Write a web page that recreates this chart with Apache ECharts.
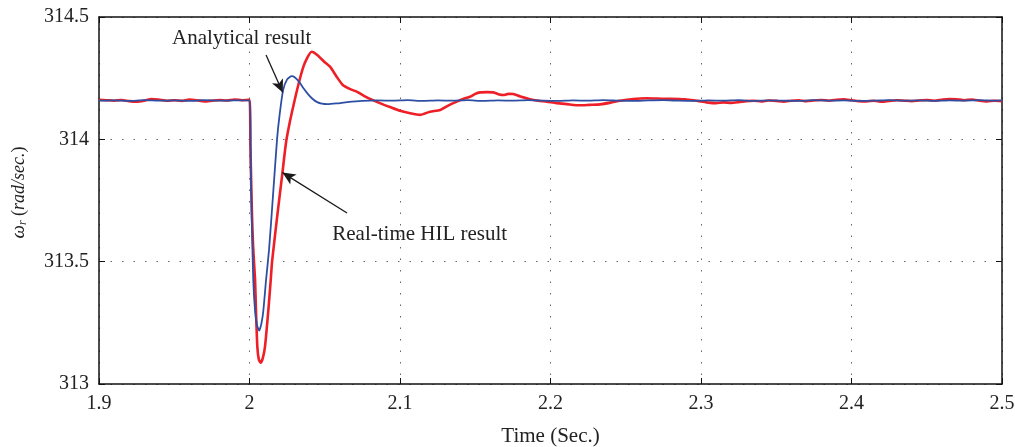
<!DOCTYPE html>
<html>
<head>
<meta charset="utf-8">
<script src="https://cdn.jsdelivr.net/npm/echarts@6/dist/echarts.min.js"></script>
<style>
html,body{margin:0;padding:0;background:#fff;}
#chart{width:1015px;height:447px;}
</style>
</head>
<body>
<div id="chart"></div>
<script>
// ---- data ----
const xTicks = [1.9, 2.0, 2.1, 2.2, 2.3, 2.4, 2.5];
const yTicks = [313, 313.5, 314, 314.5];

// Analytical result (blue)
const tAnalytical = [
  1.900,1.910,1.920,1.930,1.940,1.950,1.960,1.970,1.980,1.990,2.000,
  2.0008,2.0016,2.0025,2.0037,2.0050,2.0065,2.0080,2.0092,2.0110,2.0130,2.0155,2.0183,2.0200,2.0223,2.0250,2.0280,2.0300,
  2.0330,2.0360,2.0390,2.0420,2.0450,2.0480,2.0520,2.0580,2.0650,2.0750,2.0850,
  2.095,2.105,2.115,2.125,2.135,2.145,2.155,2.165,2.175,2.185,2.195,2.205,2.215,2.225,2.235,2.245,2.255,2.265,2.275,2.285,
  2.295,2.305,2.315,2.325,2.335,2.345,2.355,2.365,2.375,2.385,2.395,2.405,2.415,2.425,2.435,2.445,2.455,2.465,2.475,2.485,2.495,2.500
];
const vAnalytical = [
  314.158,314.159,314.157,314.160,314.158,314.159,314.157,314.160,314.158,314.159,314.158,
  313.90,313.65,313.425,313.30,313.24,313.218,313.25,313.30,313.425,313.55,313.76,314.00,314.10,314.20,314.245,314.258,314.254,
  314.235,314.208,314.184,314.165,314.152,314.146,314.144,314.147,314.152,314.157,314.159,
  314.158,314.160,314.157,314.159,314.158,314.160,314.157,314.159,314.158,314.160,314.158,314.157,314.159,314.158,314.160,314.158,314.157,314.159,314.160,314.158,
  314.157,314.159,314.158,314.160,314.157,314.159,314.158,314.157,314.160,314.158,314.159,314.157,314.158,314.160,314.158,314.159,314.157,314.159,314.158,314.160,314.158,314.159
];

// Real-time HIL result (red)
const tHIL = [
  1.900,1.905,1.910,1.915,1.920,1.925,1.930,1.935,1.940,1.945,1.950,1.955,1.960,1.965,1.970,1.975,1.980,1.985,1.990,1.995,2.000,
  2.0006,2.0012,2.0018,2.0025,2.0037,2.0043,2.0052,2.0062,2.0074,2.0088,2.0103,2.0125,2.0141,2.0150,2.0185,2.0219,2.0246,2.0300,2.0360,2.0413,
  2.0450,2.0500,2.0535,2.0580,2.0620,2.0670,2.0712,2.0760,2.0820,2.0870,2.0934,2.1000,2.1060,2.1133,2.1200,2.1266,2.1320,2.1377,2.1420,2.1465,
  2.1500,2.1532,2.1580,2.1620,2.1660,2.1687,2.1720,2.1753,2.1800,2.1864,2.1920,2.1975,2.2040,2.2108,2.2196,2.2260,2.2329,2.2400,2.2462,2.2550,
  2.2639,2.2750,2.2860,
  2.290,2.295,2.300,2.305,2.310,2.315,2.320,2.325,2.330,2.335,2.340,2.345,2.350,2.355,2.360,2.365,2.370,2.375,2.380,2.385,2.390,2.395,
  2.400,2.405,2.410,2.415,2.420,2.425,2.430,2.435,2.440,2.445,2.450,2.455,2.460,2.465,2.470,2.475,2.480,2.485,2.490,2.495,2.500
];
const vHIL = [
  314.162,314.160,314.158,314.161,314.156,314.154,314.158,314.165,314.162,314.158,314.160,314.157,314.163,314.160,314.155,314.158,314.161,314.159,314.163,314.160,314.162,
  313.98,313.80,313.66,313.55,313.425,313.30,313.153,313.10,313.087,313.105,313.153,313.30,313.425,313.50,313.69,313.864,314.00,314.16,314.30,314.358,
  314.345,314.315,314.297,314.255,314.222,314.205,314.195,314.178,314.160,314.147,314.132,314.117,314.108,314.100,314.113,314.120,314.138,314.154,314.165,314.174,
  314.186,314.192,314.193,314.192,314.183,314.181,314.186,314.185,314.175,314.164,314.158,314.154,314.148,314.144,314.139,314.141,314.143,314.150,314.158,314.165,
  314.168,314.166,314.165,
  314.163,314.160,314.155,314.150,314.148,314.151,314.149,314.152,314.156,314.158,314.155,314.159,314.157,314.154,314.158,314.160,314.156,314.159,314.161,314.158,314.162,314.164,
  314.160,314.156,314.155,314.158,314.154,314.157,314.160,314.158,314.156,314.159,314.161,314.158,314.162,314.165,314.164,314.160,314.163,314.158,314.155,314.158,314.156
];

// annotations: [textX, textY, arrowFromX, arrowFromY, arrowToX, arrowToY]
const annAnalytical = [1.9948, 314.414, 2.0110, 314.345, 2.0221, 314.191];
const annHIL = [2.1131, 313.611, 2.0648, 313.699, 2.0219, 313.864];

// ---- chart ----
const zip = (t, v) => t.map((x, i) => [x, v[i]]);
const FONT = '"Liberation Serif", "DejaVu Serif", serif';
const chart = echarts.init(document.getElementById('chart'), null, {renderer: 'canvas'});

const xMin = xTicks[0], xMax = xTicks[xTicks.length - 1];
const yMin = yTicks[0], yMax = yTicks[yTicks.length - 1];

const baseAxisLine = {show: true, lineStyle: {color: '#111', width: 1.5}};
const grid = {show: true, type: [1.5, 10], color: '#666', width: 1};

chart.setOption({
  animation: false,
  backgroundColor: '#fff',
  grid: {left: 99, right: 13, top: 17, bottom: 63, containLabel: false, outerBoundsMode: 'none'},
  xAxis: [{
    type: 'value', min: xMin, max: xMax, interval: 0.1, position: 'bottom',
    axisLine: baseAxisLine,
    axisTick: {show: true, inside: true, length: 6, lineStyle: {color: '#111', width: 1}},
    axisLabel: {color: '#222', fontFamily: FONT, fontSize: 20, margin: 10},
    splitLine: {show: true, lineStyle: grid},
    name: 'Time (Sec.)', nameLocation: 'middle', nameGap: 42,
    nameTextStyle: {color: '#222', fontFamily: FONT, fontSize: 21}
  }, {
    type: 'value', min: xMin, max: xMax, interval: 0.1, position: 'top',
    axisLine: baseAxisLine,
    axisTick: {show: true, inside: true, length: 6, lineStyle: {color: '#111', width: 1}},
    axisLabel: {show: false}, splitLine: {show: false}
  }],
  yAxis: [{
    type: 'value', min: yMin, max: yMax, interval: 0.5, position: 'left',
    axisLine: baseAxisLine,
    axisTick: {show: true, inside: true, length: 6, lineStyle: {color: '#111', width: 1}},
    axisLabel: {color: '#222', fontFamily: FONT, fontSize: 20, margin: 10},
    splitLine: {show: true, lineStyle: grid},
    name: '{w|ω}{s|r}{n| (}{i|rad/sec.}{n|)}', nameLocation: 'middle', nameGap: 70,
    nameTextStyle: {
      color: '#222', fontFamily: FONT, fontSize: 18, padding: [0, 0, 0, 16],
      rich: {
        w: {fontFamily: FONT, fontSize: 19, fontStyle: 'italic', color: '#222', verticalAlign: 'middle'},
        s: {fontFamily: FONT, fontSize: 12, fontStyle: 'italic', color: '#222', verticalAlign: 'bottom', padding: [8, 0, 0, 0]},
        n: {fontFamily: FONT, fontSize: 18, color: '#222', verticalAlign: 'middle'},
        i: {fontFamily: FONT, fontSize: 18, fontStyle: 'italic', color: '#222', verticalAlign: 'middle'}
      }
    }
  }, {
    type: 'value', min: yMin, max: yMax, interval: 0.5, position: 'right',
    axisLine: baseAxisLine,
    axisTick: {show: true, inside: true, length: 6, lineStyle: {color: '#111', width: 1}},
    axisLabel: {show: false}, splitLine: {show: false}
  }],
  series: [{
    name: 'Real-time HIL result', type: 'line', xAxisIndex: 0, yAxisIndex: 0,
    data: zip(tHIL, vHIL), showSymbol: false, smooth: 0.2,
    lineStyle: {color: '#ee1f26', width: 2.6}, z: 2,
    markPoint: {
      symbol: 'circle', symbolSize: 0, silent: true,
      label: {show: true, color: '#222', fontFamily: FONT, fontSize: 21, position: 'inside'},
      data: [
        {coord: [annAnalytical[0], annAnalytical[1]], value: 'Analytical result', label: {formatter: 'Analytical result'}},
        {coord: [annHIL[0], annHIL[1]], value: 'Real-time HIL result', label: {formatter: 'Real-time HIL result'}}
      ]
    }
  }, {
    name: 'Analytical result', type: 'line', xAxisIndex: 0, yAxisIndex: 0,
    data: zip(tAnalytical, vAnalytical), showSymbol: false, smooth: 0.2,
    lineStyle: {color: '#2d4fa3', width: 1.8}, z: 3,
    markLine: {
      silent: true, symbol: ['none', 'arrow'], symbolSize: [9, 13],
      lineStyle: {color: '#1a1a1a', width: 1.3, type: 'solid'},
      label: {show: false},
      data: [
        [{coord: [annAnalytical[2], annAnalytical[3]]}, {coord: [annAnalytical[4], annAnalytical[5]]}],
        [{coord: [annHIL[2], annHIL[3]]}, {coord: [annHIL[4], annHIL[5]]}]
      ]
    }
  }]
});
</script>
</body>
</html>
